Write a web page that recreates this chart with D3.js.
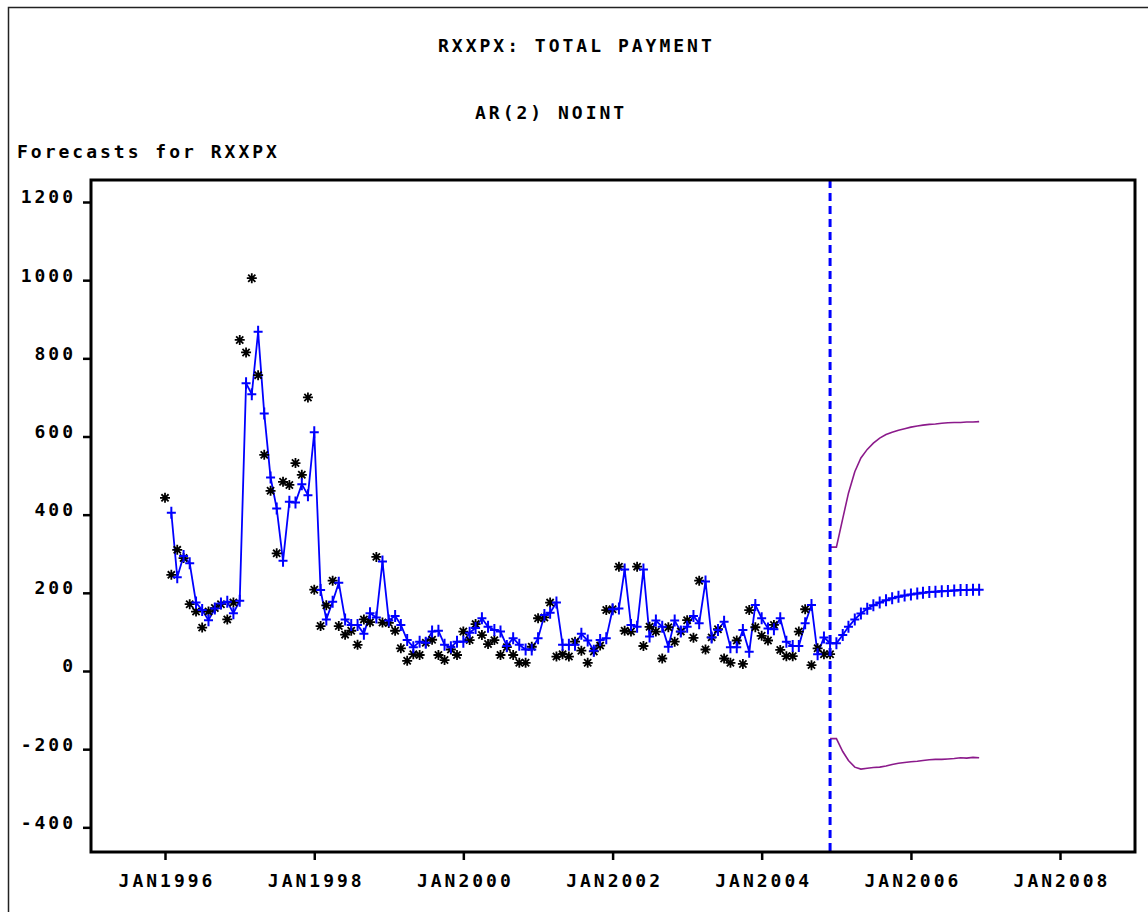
<!DOCTYPE html>
<html>
<head>
<meta charset="utf-8">
<script src="https://cdn.jsdelivr.net/npm/d3@7"></script>
<style>
  html, body { margin: 0; padding: 0; background: #fff; }
  svg text { font-family: "DejaVu Sans Mono", "Liberation Mono", monospace; font-weight: bold; fill: #000; }
</style>
</head>
<body>
<svg id="chart" width="1148" height="912"></svg>
<script>
// Monthly RXXPX total payment, JAN1996 .. DEC2004 (observed)
const actual = [
  443, 246, 310, 289, 171, 152, 111, 152, 161, 171, 132, 175,
  847, 815, 1005, 757, 553, 461, 301, 484, 476, 532, 502, 700,
  208, 115, 168, 231, 115, 93, 103, 67, 132, 125, 292, 124,
  123, 103, 58, 26, 43, 41, 72, 80, 41, 28, 55, 41,
  101, 79, 120, 92, 69, 79, 41, 61, 41, 21, 21, 62,
  135, 137, 175, 37, 43, 37, 75, 52, 21, 50, 65, 156,
  158, 267, 103, 101, 267, 64, 113, 101, 32, 112, 75, 101,
  130, 85, 231, 55, 86, 107, 32, 21, 78, 18, 156, 112,
  90, 78, 118, 54, 38, 38, 101, 158, 15, 58, 43, 43
];

// One-step fitted values FEB1996 .. DEC2004, then forecasts JAN2005 .. DEC2006
const forecast = [
  405, 240, 294, 276, 175, 156, 130, 160, 173, 177, 148,
  180, 736, 708, 868, 659, 495, 416, 282, 433, 431, 478, 450,
  611, 207, 132, 177, 226, 132, 118, 118, 95, 148, 137, 280,
  129, 141, 118, 79, 61, 75, 72, 101, 103, 67, 61, 75,
  75, 98, 110, 135, 113, 105, 101, 64, 84, 67, 55, 55,
  84, 143, 149, 175, 67, 67, 67, 95, 78, 52, 79, 84,
  158, 160, 260, 118, 113, 260, 88, 129, 113, 62, 129, 101,
  113, 141, 122, 229, 86, 105, 126, 61, 61, 105, 49, 169,
  135, 109, 107, 135, 75, 64, 64, 122, 169, 43, 86, 71,
  71, 92, 113, 132, 147, 159, 168, 175, 181, 186, 190, 193,
  196, 198, 200, 202, 203, 204, 205, 206, 207, 207, 208, 208
];

// 95% confidence limits, DEC2004 .. DEC2006
const upper95 = [
  317, 317, 390, 455, 510, 545, 567, 583, 596, 605, 611, 616, 620,
  624, 627, 629, 631, 632, 634, 635, 636, 636, 637, 637, 638
];
const lower95 = [
  -173, -173, -206, -229, -246, -251, -249, -247, -246, -243, -239, -236, -234,
  -232, -231, -229, -227, -226, -226, -225, -224, -222, -223, -221, -222
];

const yTicks = [-400, -200, 0, 200, 400, 600, 800, 1000, 1200];
const xTickYears = [1996, 1998, 2000, 2002, 2004, 2006, 2008];
const title = "RXXPX: TOTAL PAYMENT";
const subtitle = "AR(2) NOINT";
const yTitle = "Forecasts for RXXPX";

const startYear = 1996;               // first observation month: JAN1996
const fcStart = 1;                    // fitted series begins FEB1996
const boundStart = actual.length - 1; // limits begin at last observation
const monthDate = i => new Date(startYear, i, 1);

// ---- layout ----
const svg = d3.select("#chart");
const frame = { left: 91, top: 180, right: 1135, bottom: 852 };
const fontSize = "18px", spacing = "3px";

const x = d3.scaleTime()
  .domain([new Date(1996, 0, 1), new Date(2008, 0, 1)])
  .range([165, 1060]);
const y = d3.scaleLinear()
  .domain([0, 1200])
  .range([671, 202]);

svg.append("rect").attr("width", 1148).attr("height", 912).attr("fill", "#fff");

// outer page border
svg.append("path")
  .attr("d", "M8.5,912 V7.5 H1148")
  .attr("fill", "none").attr("stroke", "#222").attr("stroke-width", 1.5);

// titles
[[title, 438, 52], [subtitle, 475, 119], [yTitle, 17, 158]].forEach(([t, tx, ty]) => {
  svg.append("text").attr("x", tx).attr("y", ty)
    .style("font-size", fontSize).style("letter-spacing", spacing).text(t);
});

// axes
const yAxis = d3.axisLeft(y).tickValues(yTicks).tickSize(8).tickPadding(7)
  .tickFormat(d => d);
const gy = svg.append("g").attr("transform", `translate(${frame.left},0)`).call(yAxis);
gy.select(".domain").remove();
gy.selectAll(".tick line").attr("stroke", "#000").attr("stroke-width", 2.5);
gy.selectAll(".tick text")
  .attr("dy", "0.05em")
  .style("font-size", fontSize).style("letter-spacing", spacing);

const xAxis = d3.axisBottom(x)
  .tickValues(xTickYears.map(yr => new Date(yr, 0, 1)))
  .tickSize(8).tickPadding(14)
  .tickFormat(d => "JAN" + d.getFullYear());
const gx = svg.append("g").attr("transform", `translate(0,${frame.bottom})`).call(xAxis);
gx.select(".domain").remove();
gx.selectAll(".tick line").attr("stroke", "#000").attr("stroke-width", 2.5);
gx.selectAll(".tick text")
  .style("font-size", fontSize).style("letter-spacing", spacing)
  .attr("dx", "1.5px");

// plotting area clip
svg.append("clipPath").attr("id", "plotClip")
  .append("rect")
  .attr("x", frame.left).attr("y", frame.top)
  .attr("width", frame.right - frame.left).attr("height", frame.bottom - frame.top);
const plot = svg.append("g").attr("clip-path", "url(#plotClip)");

// confidence limits
const boundLine = d3.line()
  .x((d, i) => x(monthDate(boundStart + i)))
  .y(d => y(d));
[upper95, lower95].forEach(series => {
  plot.append("path").datum(series)
    .attr("d", boundLine)
    .attr("fill", "none").attr("stroke", "#8b1a8b").attr("stroke-width", 1.6);
});

// forecast line
const fcLine = d3.line()
  .x((d, i) => x(monthDate(fcStart + i)))
  .y(d => y(d));
plot.append("path").datum(forecast)
  .attr("d", fcLine)
  .attr("fill", "none").attr("stroke", "#0000ff").attr("stroke-width", 1.8);

// observed values: asterisks
const star = "M0,-5V5M-5,0H5M-3.6,-3.6L3.6,3.6M-3.6,3.6L3.6,-3.6";
plot.append("g").selectAll("path").data(actual).join("path")
  .attr("transform", (d, i) => `translate(${x(monthDate(i))},${y(d)})`)
  .attr("d", star)
  .attr("fill", "none").attr("stroke", "#000").attr("stroke-width", 1.8);

// forecast values: plus signs
const plus = "M0,-6V6M-4.5,0H4.5";
plot.append("g").selectAll("path").data(forecast).join("path")
  .attr("transform", (d, i) => `translate(${x(monthDate(fcStart + i))},${y(d)})`)
  .attr("d", plus)
  .attr("fill", "none").attr("stroke", "#0000ff").attr("stroke-width", 2);

// forecast origin reference line
const refX = x(monthDate(boundStart));
plot.append("line")
  .attr("x1", refX).attr("x2", refX)
  .attr("y1", frame.top).attr("y2", frame.bottom)
  .attr("stroke", "#0000ff").attr("stroke-width", 3)
  .attr("stroke-dasharray", "8,5");

// frame
svg.append("rect")
  .attr("x", frame.left).attr("y", frame.top)
  .attr("width", frame.right - frame.left).attr("height", frame.bottom - frame.top)
  .attr("fill", "none").attr("stroke", "#000").attr("stroke-width", 3);
</script>
</body>
</html>
